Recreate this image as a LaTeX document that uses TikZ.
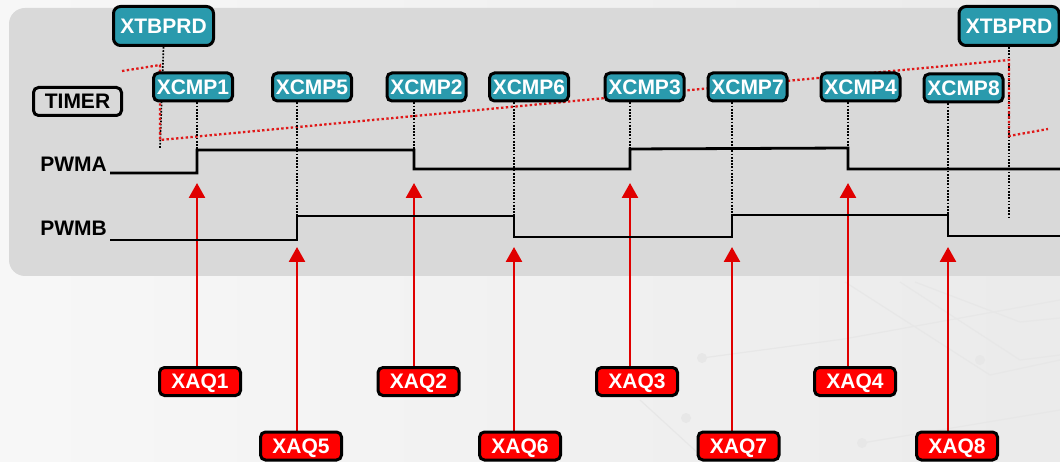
\documentclass[tikz,border=0pt]{standalone}
\usepackage{fontspec}
\setmainfont{Liberation Sans}
\usetikzlibrary{arrows.meta,backgrounds}

\definecolor{panelgray}{HTML}{D9D9D9}
\definecolor{regteal}{HTML}{2A9AAD}
\definecolor{aqred}{HTML}{FF0000}
\definecolor{trigred}{HTML}{E00000}
\definecolor{rampred}{HTML}{E01818}
\definecolor{circuit}{HTML}{E7E7E7}

\tikzset{
  lbl/.style={font=\fontsize{21}{21}\selectfont\bfseries, inner sep=0pt, text depth=0pt},
  regbox/.style={lbl, draw=black, line width=3pt, rounded corners=5pt, fill=regteal,
    text=white, minimum width=79pt, minimum height=28pt},
  prdbox/.style={regbox, minimum width=100pt, minimum height=39pt, rounded corners=7pt},
  aqbox/.style={regbox, fill=aqred, minimum width=81pt},
  timerbox/.style={lbl, draw=black, line width=3pt, rounded corners=5pt,
    minimum width=88pt, minimum height=28pt},
  siglabel/.style={lbl, anchor=east},
  sig/.style={line width=2.8pt, line join=miter},
  tick/.style={black, line width=1.7pt, dash pattern=on 1.7pt off 1.5pt},
  ramp/.style={rampred, line width=2.3pt, dash pattern=on 2.4pt off 2.4pt},
  trig/.style={trigred, line width=2.6pt, -{Triangle[width=16pt,length=15pt]}},
  trace/.style={circuit, line width=1.2pt}
}

\begin{document}
\begin{tikzpicture}[x=1pt,y=-1pt]
\useasboundingbox (0,0) rectangle (1060,462);

% register labels
\node[prdbox] (prdL) at (163.5,26) {XTBPRD};
\node[prdbox] (prdR) at (1009,26) {XTBPRD};
\node[timerbox] (timer) at (77.5,101.5) {TIMER};

\node[regbox] (cmp1) at (193,87) {XCMP1};
\node[regbox] (cmp5) at (312,87) {XCMP5};
\node[regbox] (cmp2) at (426.5,87) {XCMP2};
\node[regbox] (cmp6) at (529,87) {XCMP6};
\node[regbox] (cmp3) at (644.5,87) {XCMP3};
\node[regbox] (cmp7) at (747.5,87) {XCMP7};
\node[regbox] (cmp4) at (860.5,87) {XCMP4};
\node[regbox] (cmp8) at (963.5,88) {XCMP8};

\node[siglabel] (pwma) at (107,164) {PWMA};
\node[siglabel] (pwmb) at (107,228.5) {PWMB};

\node[aqbox] (aq1) at (200,381.5) {XAQ1};
\node[aqbox] (aq2) at (418.5,381.5) {XAQ2};
\node[aqbox] (aq3) at (637,381.5) {XAQ3};
\node[aqbox] (aq4) at (855,381.5) {XAQ4};
\node[aqbox] (aq5) at (301,446) {XAQ5};
\node[aqbox] (aq6) at (520,446) {XAQ6};
\node[aqbox] (aq7) at (738.5,446) {XAQ7};
\node[aqbox] (aq8) at (957,446) {XAQ8};

% edge points of the two outputs
\coordinate (ea1) at (197,150);
\coordinate (ea2) at (414,150);
\coordinate (ea3) at (630,149);
\coordinate (ea4) at (848,148);
\coordinate (eb1) at (297,216);
\coordinate (eb2) at (514,216);
\coordinate (eb3) at (732,215);
\coordinate (eb4) at (948,215);

% arrow tips under the edges
\coordinate (ta1) at (197,183);
\coordinate (ta2) at (414,183);
\coordinate (ta3) at (630,183);
\coordinate (ta4) at (848,183);
\coordinate (tb1) at (297,247);
\coordinate (tb2) at (514,247);
\coordinate (tb3) at (732,247);
\coordinate (tb4) at (948,247);

% counter ramp
\coordinate (r0) at (122,71);
\coordinate (r1) at (160,65);
\coordinate (r2) at (160,140);
\coordinate (r3) at (1009,60);
\coordinate (r4) at (1009,136);
\coordinate (r5) at (1048,129);
\coordinate (pL) at (160,148);
\coordinate (pR) at (1009,217);

\begin{scope}[on background layer]
  % backdrop
  \shade[left color=white!97!black, right color=white!92!black] (0,0) rectangle (1060,462);
  \draw[trace] (702,358) -- (844,339) -- (1060,300);
  \fill[circuit] (702,358) circle (5pt);
  \draw[trace] (862,443) -- (1000,420) -- (1060,410);
  \fill[circuit] (862,443) circle (5pt);
  \draw[trace] (640,400) -- (700,455);
  \fill[circuit] (686,418) circle (5pt);
  \draw[trace] (845,282) -- (990,375) -- (1060,360);
  \draw[trace] (900,282) -- (1020,360) -- (1060,355);
  \fill[circuit] (980,360) circle (5pt);
  \draw[trace] (915,282) -- (1020,322) -- (1060,318);
  % timing panel
  \fill[panelgray, rounded corners=16pt] (9,8) rectangle (1100,276);
  % period markers and ramp
  \draw[tick] (prdL.south) -- (pL);
  \draw[tick] (prdR.south) -- (pR);
  \draw[ramp] (r0) -- (r1) -- (r2) -- (r3) -- (r4) -- (r5);
  % action-qualifier triggers
  \draw[trig] (aq1.north -| ta1) -- (ta1);
  \draw[trig] (aq2.north -| ta2) -- (ta2);
  \draw[trig] (aq3.north -| ta3) -- (ta3);
  \draw[trig] (aq4.north -| ta4) -- (ta4);
  \draw[trig] (aq5.north -| tb1) -- (tb1);
  \draw[trig] (aq6.north -| tb2) -- (tb2);
  \draw[trig] (aq7.north -| tb3) -- (tb3);
  \draw[trig] (aq8.north -| tb4) -- (tb4);
\end{scope}

% compare markers
\draw[tick] (cmp1.south -| ea1) -- (ea1);
\draw[tick] (cmp2.south -| ea2) -- (ea2);
\draw[tick] (cmp3.south -| ea3) -- (ea3);
\draw[tick] (cmp4.south -| ea4) -- (ea4);
\draw[tick] (cmp5.south -| eb1) -- (eb1);
\draw[tick] (cmp6.south -| eb2) -- (eb2);
\draw[tick] (cmp7.south -| eb3) -- (eb3);
\draw[tick] (cmp8.south -| eb4) -- (eb4);

% output waveforms
\draw[sig] (110,173) -- (ea1 |- 0,173) -- (ea1) -- (ea2) -- (ea2 |- 0,169)
  -- (ea3 |- 0,169) -- (ea3) -- (ea4) -- (ea4 |- 0,169) -- (1062,169);
\draw[sig] (110,240) -- (eb1 |- 0,240) -- (eb1) -- (eb2) -- (eb2 |- 0,237)
  -- (eb3 |- 0,237) -- (eb3) -- (eb4) -- (eb4 |- 0,236) -- (1062,236);
\end{tikzpicture}
\end{document}
